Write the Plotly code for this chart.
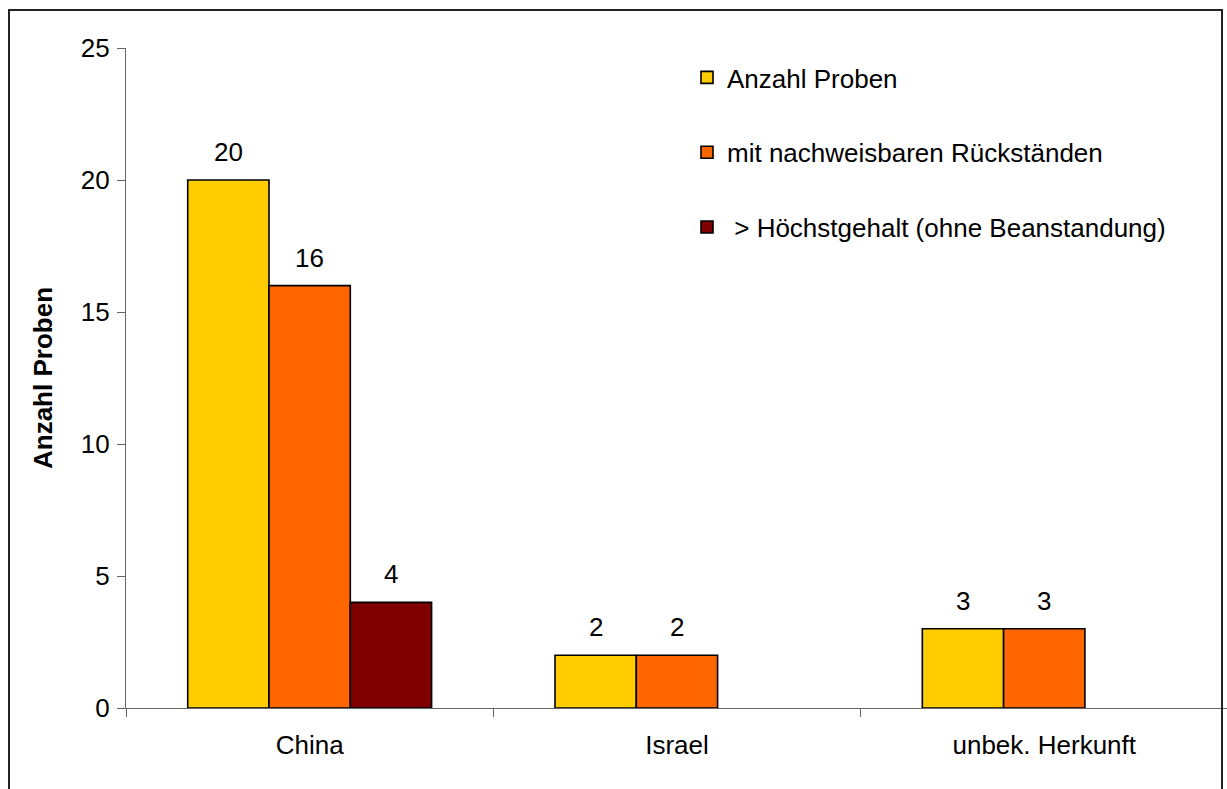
import plotly.graph_objects as go

# Herkunft der Proben und Anzahl je Befundklasse
categories = ["China", "Israel", "unbek. Herkunft"]
series_names = [
    "Anzahl Proben",
    "mit nachweisbaren Rückständen",
    " > Höchstgehalt (ohne Beanstandung)",
]
anzahl_proben = [20, 2, 3]
mit_rueckstaenden = [16, 2, 3]
ueber_hoechstgehalt = [4, None, None]

colors = ["#FFCC00", "#FF6600", "#800000"]
FONT = "Liberation Sans, Arial, Helvetica, sans-serif"
FS = 26

W, H = 1227, 789
L, R, T, B = 126, 0, 48, 81
plot_w = W - L - R
plot_h = H - T - B
cat_px = 367.3          # width of one category slot in pixels
bargap = 0.336
bar_px = cat_px * (1 - bargap) / 3


def px_to_paper_x(px):
    return (px - L) / plot_w


def px_to_paper_y(py):
    return (H - B - py) / plot_h


all_series = [anzahl_proben, mit_rueckstaenden, ueber_hoechstgehalt]

fig = go.Figure()
for i, (name, vals) in enumerate(zip(series_names, all_series)):
    fig.add_trace(
        go.Bar(
            x=categories,
            y=vals,
            name=name,
            legendgroup=f"g{i}",
            marker=dict(color=colors[i], line=dict(color="black", width=1.6)),
        )
    )
    # value labels above each bar
    for cat, v in zip(categories, vals):
        if v is None:
            continue
        fig.add_annotation(
            x=cat,
            y=v,
            xref="x",
            yref="y",
            text=str(v),
            showarrow=False,
            xshift=(i - 1) * bar_px,
            yshift=11,
            yanchor="bottom",
            font=dict(family=FONT, size=FS, color="black"),
        )

fig.update_layout(
    width=W,
    height=H,
    margin=dict(l=L, r=R, t=T, b=B),
    paper_bgcolor="white",
    plot_bgcolor="white",
    barmode="group",
    bargap=bargap,
    bargroupgap=0,
    font=dict(family=FONT, size=FS, color="black"),
    showlegend=True,
    legend=dict(
        x=px_to_paper_x(687),
        y=px_to_paper_y(54),
        xanchor="left",
        yanchor="top",
        bgcolor="rgba(0,0,0,0)",
        font=dict(family=FONT, size=FS, color="black"),
        tracegroupgap=38,
        traceorder="grouped",
    ),
    xaxis=dict(
        type="category",
        range=[-0.5, -0.5 + plot_w / cat_px],
        showline=True,
        linecolor="#666666",
        linewidth=1.3,
        ticks="outside",
        tickson="boundaries",
        ticklen=8,
        tickcolor="#666666",
        tickwidth=1.3,
        showgrid=False,
        zeroline=False,
        tickfont=dict(family=FONT, size=FS, color="black"),
        ticklabelstandoff=14,
    ),
    yaxis=dict(
        range=[0, 25],
        tickvals=[0, 5, 10, 15, 20, 25],
        showline=True,
        linecolor="#666666",
        linewidth=1.3,
        ticks="outside",
        ticklen=8,
        tickcolor="#666666",
        tickwidth=1.3,
        showgrid=False,
        zeroline=False,
        tickfont=dict(family=FONT, size=FS, color="black"),
        ticklabelstandoff=2,
        title=dict(
            text="<b>Anzahl Proben</b>",
            font=dict(family=FONT, size=FS, color="black"),
            standoff=20,
        ),
    ),
)

# Rahmen um die gesamte Grafik
fig.add_shape(
    type="rect",
    xref="paper",
    yref="paper",
    x0=px_to_paper_x(9),
    x1=px_to_paper_x(1222),
    y0=px_to_paper_y(10),
    y1=px_to_paper_y(795),
    line=dict(color="#222222", width=2),
    fillcolor="rgba(0,0,0,0)",
    layer="above",
)

fig.write_html("out.html")
